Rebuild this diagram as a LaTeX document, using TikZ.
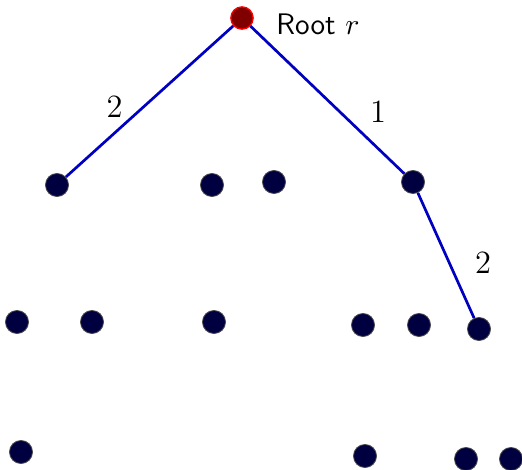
\documentclass[tikz,border=0pt]{standalone}
\usepackage{amsmath,amssymb}
\usepackage{xcolor}
\usepackage{tikz}
\usetikzlibrary{positioning}
\definecolor{TreeRoot}{RGB}{128,0,0}
\definecolor{TreeNode}{RGB}{0,0,64}
\definecolor{TreeEdge}{RGB}{0,0,192}
\tikzset{
  rootnode/.style={circle,draw=red,fill=TreeRoot,minimum size=0.29cm,inner sep=0pt,line width=0.5pt},
  vnode/.style={circle,draw=black!70,fill=TreeNode,minimum size=0.3cm,inner sep=0pt,line width=0.3pt},
  tedge/.style={TreeEdge,line width=1pt},
  wlabel/.style={font=\fontsize{11.5}{13}\selectfont,text=black},
}
\begin{document}
\begin{tikzpicture}
    \useasboundingbox (0,0) rectangle (6.786,6.097);
    %% Root
    \node[rootnode] (root) at (3.146,5.863) {};
    \node[right=0.17cm of root,yshift=-2.4pt,font=\fontsize{11}{13}\selectfont] (rootlab) {\textsf{Root} $r$};
    %% First row
    \node[vnode] (a1) at (0.741,3.692) {};
    \node[vnode] (a2) at (2.756,3.692) {};
    \node[vnode] (a3) at (3.562,3.731) {};
    \node[vnode] (a4) at (5.369,3.731) {};
    %% Second row
    \node[vnode] (b1) at (0.221,1.911) {};
    \node[vnode] (b2) at (1.196,1.911) {};
    \node[vnode] (b3) at (2.782,1.911) {};
    \node[vnode] (b4) at (4.719,1.872) {};
    \node[vnode] (b5) at (5.447,1.872) {};
    \node[vnode] (b6) at (6.227,1.820) {};
    %% Third row
    \node[vnode] (c1) at (0.273,0.221) {};
    \node[vnode] (c2) at (4.745,0.169) {};
    \node[vnode] (c3) at (6.058,0.130) {};
    \node[vnode] (c4) at (6.643,0.130) {};
    %% Tree edges
    \draw[tedge] (root) -- node[wlabel,pos=0.54,left=0.13cm] (w1) {$2$} (a1);
    \draw[tedge] (root) -- node[wlabel,pos=0.58,right=0.26cm] (w2) {$1$} (a4);
    \draw[tedge] (a4) -- node[wlabel,pos=0.56,right=0.2cm] (w3) {$2$} (b6);
  \end{tikzpicture}
\end{document}
